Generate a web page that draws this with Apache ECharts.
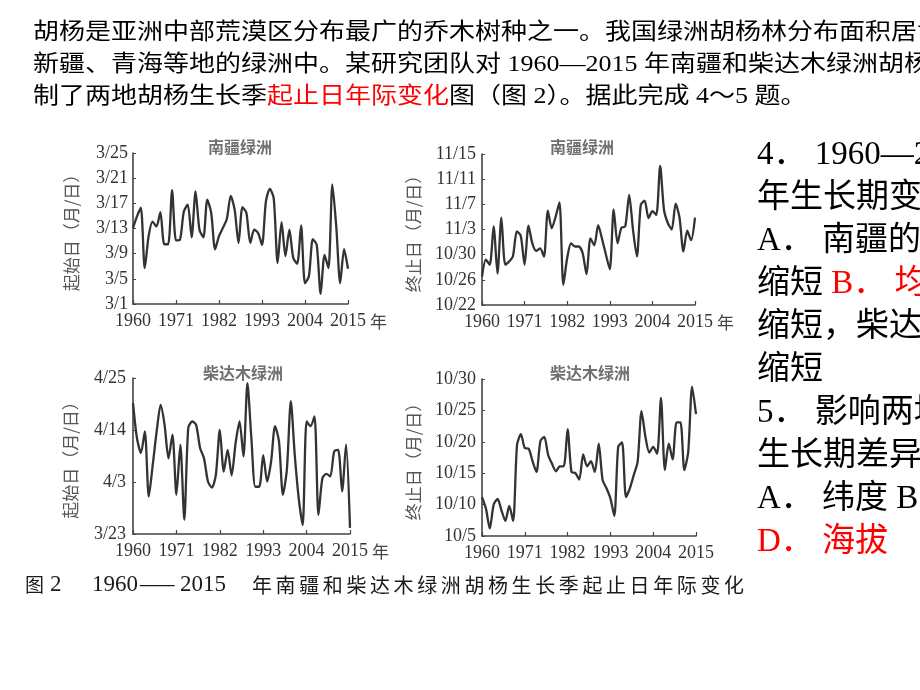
<!DOCTYPE html>
<html><head><meta charset="utf-8">
<script src="https://cdn.jsdelivr.net/npm/echarts@6/dist/echarts.min.js"></script>
<style>html,body{margin:0;padding:0;background:#fff}#c{width:920px;height:690px}</style>
</head><body><div id="c"></div>
<script>
// ---------------- data ----------------
const years = [1960,1961,1962,1963,1964,1965,1966,1967,1968,1969,
  1970,1971,1972,1973,1974,1975,1976,1977,1978,1979,
  1980,1981,1982,1983,1984,1985,1986,1987,1988,1989,
  1990,1991,1992,1993,1994,1995,1996,1997,1998,1999,
  2000,2001,2002,2003,2004,2005,2006,2007,2008,2009,
  2010,2011,2012,2013,2014,2015];

// 南疆绿洲 起始日: day of March (13 = 3/13)
const southStart = [13.1,14.9,16.3,6.7,11.8,14.1,13.3,15.6,10.5,10.5,
  19.1,11.1,11.2,15.7,16.8,11.6,18.9,12.8,11.6,17.6,
  15.5,9.7,11.8,13.1,14.5,18.2,16.0,10.7,16.4,15.5,
  10.7,12.8,12.3,10.4,17.3,19.3,17.8,7.5,14.0,8.6,
  12.8,8.3,7.4,13.5,4.3,5.4,11.3,10.4,2.6,8.8,
  6.7,20.0,13.3,4.3,9.7,6.6];

// 南疆绿洲 终止日: day counted from Oct 1 (32 = 11/1)
const southEnd = [26.5,29.2,28.4,34.5,27.0,35.9,28.4,28.9,29.8,33.7,
  33.0,28.4,34.6,31.8,30.6,31.0,29.7,37.0,34.2,36.0,
  38.3,25.2,29.5,31.8,31.3,31.3,30.2,26.9,32.6,31.5,
  34.7,32.5,30.0,27.7,37.2,31.8,34.3,34.5,39.5,33.9,
  29.7,37.9,38.6,35.8,36.9,36.3,44.1,37.1,35.0,34.0,
  38.1,35.9,30.5,33.8,32.3,35.9];

// 柴达木绿洲 起始日: day counted from Mar 1 (32 = 4/1)
const qaidamStart = [50.7,43.3,40.1,44.7,30.9,37.6,44.7,50.3,46.1,39.0,
  44.0,31.3,41.9,26.0,45.4,46.8,46.1,41.2,39.0,34.1,
  32.8,35.5,45.0,36.2,40.8,35.4,42.2,46.8,39.4,54.9,
  43.3,33.0,33.0,39.7,34.1,38.3,45.8,42.6,31.3,36.6,
  51.1,39.7,30.6,24.9,46.8,45.8,47.9,27.0,34.8,35.7,
  35.2,40.5,40.8,32.0,41.9,24.3];

// 柴达木绿洲 终止日: day of October
const qaidamEnd = [11.2,9.4,6.2,10.0,10.9,9.1,7.4,9.8,7.4,19.5,
  21.2,19.0,18.9,16.9,15.2,20.1,20.8,17.9,16.5,15.3,
  16.1,16.1,22.0,15.2,15.0,14.0,18.0,16.1,16.9,15.2,
  19.7,13.9,12.6,11.0,8.2,19.2,19.9,11.2,12.6,14.7,
  16.8,24.9,20.8,18.3,19.2,18.1,27.0,15.5,19.7,17.2,
  23.1,23.1,15.5,18.4,28.8,24.4];

const panelTitles = ['南疆绿洲','南疆绿洲','柴达木绿洲','柴达木绿洲'];
const yNames = ['起始日（月/日）','终止日（月/日）','起始日（月/日）','终止日（月/日）'];
// y-axis ranges (in the day units above) and tick step
const yRanges = [[1,25,4],[22,46,4],[23,56,11],[5,30,5]];
const fmtMar = v => v <= 31 ? '3/' + v : '4/' + (v - 31);
const fmtOct = v => v <= 31 ? '10/' + v : '11/' + (v - 31);
const yFormatters = [fmtMar, fmtOct, fmtMar, fmtOct];
const seriesData = [southStart, southEnd, qaidamStart, qaidamEnd];

// ---------------- layout ----------------
const SERIF = '"Liberation Serif","Times New Roman","Noto Sans CJK SC",serif';
const CJK = '"Noto Sans CJK SC",sans-serif';
const grids = [
  {left:133, top:153, width:215, height:151},
  {left:482, top:154, width:213, height:151},
  {left:133, top:378, width:217, height:156},
  {left:482, top:379, width:214, height:157}
];
const nameGaps = [53, 60, 54, 60];
const yLabelMargins = [5, 6, 7, 6];
const xNames = ['年','年','年',''];
const titlePos = [[240,147],[582,147],[243,373],[590,373]];

const xAxes = [], yAxes = [], series = [];
for (let i = 0; i < 4; i++) {
  xAxes.push({
    type:'category', gridIndex:i, data:years, boundaryGap:false,
    axisLine:{lineStyle:{color:'#444', width:1.6}},
    axisTick:{inside:true, length:4, interval:10, lineStyle:{color:'#444', width:1.2}},
    axisLabel:{interval:10, margin:8, color:'#333', fontFamily:SERIF, fontSize:18},
    splitLine:{show:false},
    name:xNames[i], nameLocation:'end', nameGap:20,
    nameTextStyle:{fontFamily:CJK, fontSize:17, color:'#444', verticalAlign:'top', padding:[9,0,0,0]}
  });
  yAxes.push({
    type:'value', gridIndex:i, min:yRanges[i][0], max:yRanges[i][1], interval:yRanges[i][2],
    axisLine:{show:true, lineStyle:{color:'#444', width:1.6}},
    axisTick:{show:true, inside:true, length:3, lineStyle:{color:'#444'}},
    splitLine:{show:false},
    axisLabel:{formatter:yFormatters[i], margin:yLabelMargins[i], color:'#333', fontFamily:SERIF, fontSize:18},
    name:yNames[i], nameLocation:'middle', nameRotate:90, nameGap:nameGaps[i],
    nameTextStyle:{fontFamily:CJK, fontSize:17, color:'#555'}
  });
  series.push({
    type:'line', xAxisIndex:i, yAxisIndex:i, data:seriesData[i],
    symbol:'none', smooth:0.25, lineStyle:{color:'#333', width:2.3}, animation:false
  });
}

const graphics = [];
// panel titles
panelTitles.forEach((t, i) => graphics.push({type:'text', x:titlePos[i][0], y:titlePos[i][1],
  style:{text:t, fontFamily:CJK, fontSize:16, fontWeight:'bold', fill:'#707070', align:'center', verticalAlign:'middle'}}));

// top paragraph
const topLines = [
  '胡杨是亚洲中部荒漠区分布最广的乔木树种之一。我国绿洲胡杨林分布面积居世',
  '新疆、青海等地的绿洲中。某研究团队对 1960—2015 年南疆和柴达木绿洲胡杨林'
];
const TOPFONT = '"Liberation Serif","Noto Sans CJK SC",serif';
topLines.forEach((t, i) => graphics.push({type:'text', x:33, y:33 + 32 * i, scaleY:0.86,
  style:{text:t, fontFamily:TOPFONT, fontSize:26, fill:'#000', align:'left', verticalAlign:'middle'}}));
graphics.push({type:'text', x:33, y:97, scaleY:0.86,
  style:{text:'{k|制了两地胡杨生长季}{r|起止日年际变化}{k|图（图 2）。据此完成 4～5 题。}',
    fontFamily:TOPFONT, fontSize:26, align:'left', verticalAlign:'middle',
    rich:{k:{fill:'#000', fontFamily:TOPFONT, fontSize:26}, r:{fill:'#ff0000', fontFamily:TOPFONT, fontSize:26}}}});

// right column (questions)
const rightLines = [
  '{k|4． 1960—2015}',
  '{k|年生长期变化}',
  '{k|A． 南疆的}',
  '{k|缩短 }{r|B． 均}',
  '{k|缩短，柴达}',
  '{k|缩短}',
  '{k|5． 影响两地}',
  '{k|生长期差异}',
  '{k|A． 纬度 B}',
  '{r|D． 海拔}'
];
rightLines.forEach((t, i) => graphics.push({type:'text', x:757, y:155 + 43 * i,
  style:{text:t, fontFamily:TOPFONT, fontSize:33, align:'left', verticalAlign:'middle',
    rich:{k:{fill:'#000', fontFamily:TOPFONT, fontSize:33}, r:{fill:'#ff0000', fontFamily:TOPFONT, fontSize:33}}}}));

// caption
const capColor = '#1a1a1a';
graphics.push({type:'text', x:25, y:585, style:{text:'图', fontFamily:CJK, fontSize:19, fill:capColor, verticalAlign:'middle'}});
graphics.push({type:'text', x:50, y:585, style:{text:'2', fontFamily:SERIF, fontSize:23, fill:capColor, verticalAlign:'middle'}});
graphics.push({type:'text', x:92, y:585, style:{text:'1960', fontFamily:SERIF, fontSize:23, fill:capColor, verticalAlign:'middle'}});
graphics.push({type:'text', x:140, y:585, scaleX:1.5, style:{text:'—', fontFamily:SERIF, fontSize:23, fill:capColor, verticalAlign:'middle'}});
graphics.push({type:'text', x:180, y:585, style:{text:'2015', fontFamily:SERIF, fontSize:23, fill:capColor, verticalAlign:'middle'}});
const capChars = '年南疆和柴达木绿洲胡杨生长季起止日年际变化'.split('');
capChars.forEach((c, i) => graphics.push({type:'text', x:252 + i * 23.6, y:585,
  style:{text:c, fontFamily:CJK, fontSize:20, fill:capColor, verticalAlign:'middle'}}));

const chart = echarts.init(document.getElementById('c'), null, {renderer:'canvas'});
chart.setOption({
  animation:false,
  backgroundColor:'#fff',
  grid:grids,
  xAxis:xAxes,
  yAxis:yAxes,
  series:series,
  graphic:graphics
});
</script></body></html>
